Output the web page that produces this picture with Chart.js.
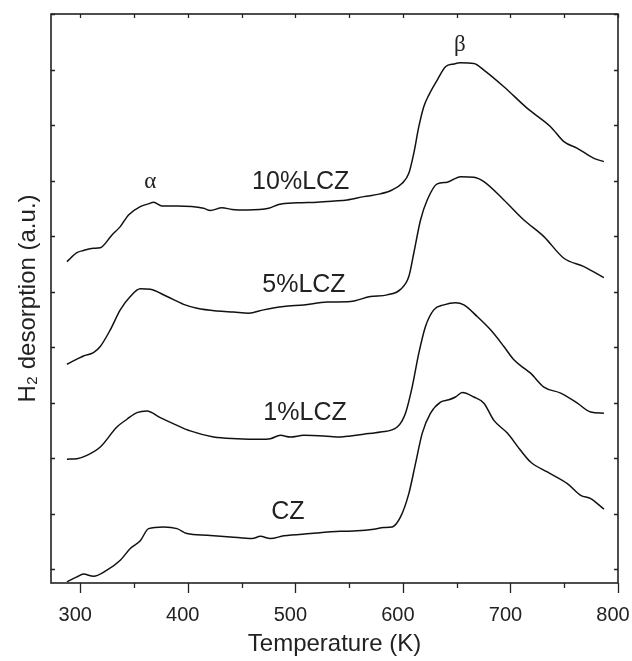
<!DOCTYPE html>
<html>
<head>
<meta charset="utf-8">
<script src="https://cdn.jsdelivr.net/npm/chart.js@4"></script>
<style>
  html, body { margin: 0; padding: 0; background: #fff; }
  #wrap { width: 632px; height: 661px; position: relative; }
</style>
</head>
<body>
<div id="wrap"><canvas id="tpr"></canvas></div>
<script>
// temperatures (K) and H2 desorption signal (a.u., offset per sample)
const t10 = [287.6,296.9,303.0,312.3,318.6,329.5,337.2,344.9,355.8,363.5,368.2,376.0,390.0,414.7,420.9,431.8,441.1,455.1,475.2,484.5,501.6,520.2,535.7,548.2,563.6,579.1,590.0,599.3,605.5,610.1,614.8,619.4,624.1,631.9,639.6,647.4,653.6,666.0,675.3,693.9,715.7,737.3,749.7,762.2,777.6,786.9];
const v10 = [5.54,5.70,5.74,5.78,5.79,6.02,6.17,6.38,6.53,6.58,6.61,6.54,6.54,6.50,6.46,6.51,6.48,6.47,6.50,6.57,6.60,6.61,6.63,6.65,6.71,6.76,6.83,6.95,7.13,7.49,7.97,8.33,8.54,8.81,9.05,9.10,9.12,9.11,8.99,8.69,8.30,7.97,7.70,7.58,7.40,7.34];

const t5 = [287.6,303.0,312.3,318.6,327.9,337.2,346.5,355.8,365.1,380.7,396.1,408.6,427.2,442.6,456.6,470.5,489.2,507.8,529.5,551.2,569.8,585.4,597.8,605.5,610.1,616.4,622.6,631.9,641.2,653.6,666.0,675.3,693.9,712.5,731.1,749.7,768.3,786.9];
const v5 = [3.69,3.84,3.90,4.01,4.31,4.67,4.91,5.05,5.04,4.91,4.77,4.70,4.65,4.63,4.61,4.67,4.73,4.76,4.81,4.82,4.91,4.94,5.04,5.27,5.69,6.29,6.65,6.94,6.97,7.07,7.06,6.98,6.65,6.29,5.99,5.60,5.45,5.25];

const t1 = [287.6,296.9,306.2,318.6,334.1,343.4,352.7,362.0,374.4,390.0,402.3,424.0,445.8,467.5,476.8,486.1,495.4,507.8,526.4,541.9,551.2,563.6,579.1,594.7,602.4,608.6,614.8,621.0,628.7,638.1,648.9,656.7,669.1,681.5,693.9,703.2,712.5,718.7,731.1,746.7,762.2,774.6,786.9];
const v1 = [1.98,1.99,2.05,2.20,2.56,2.70,2.82,2.85,2.73,2.59,2.49,2.38,2.35,2.34,2.35,2.41,2.38,2.41,2.40,2.38,2.40,2.43,2.47,2.56,2.81,3.28,3.89,4.37,4.67,4.76,4.80,4.76,4.55,4.31,4.01,3.77,3.62,3.53,3.28,3.17,2.99,2.83,2.81];

const tCZ = [287.6,296.9,303.0,312.3,324.8,337.2,346.5,355.8,363.5,377.5,390.0,399.3,417.9,439.6,459.8,467.5,476.8,489.2,514.0,541.9,557.5,572.9,582.2,590.0,597.8,605.5,611.7,618.0,625.7,635.0,642.7,648.9,655.2,666.0,675.3,684.6,697.1,709.4,718.7,734.3,752.9,765.3,774.6,786.9];
const vCZ = [-0.23,-0.14,-0.09,-0.13,-0.02,0.16,0.37,0.51,0.73,0.76,0.73,0.64,0.61,0.58,0.55,0.59,0.55,0.60,0.64,0.68,0.69,0.72,0.75,0.76,0.94,1.36,1.90,2.45,2.81,3.01,3.05,3.10,3.18,3.10,2.99,2.68,2.45,2.14,1.93,1.75,1.54,1.33,1.27,1.08];

const seriesNames = ['10%LCZ', '5%LCZ', '1%LCZ', 'CZ'];
const xTicks = [300, 350, 400, 450, 500, 550, 600, 650, 700, 750, 800];
const xTickLabels = [300, 400, 500, 600, 700, 800];
const yTicks = [0, 1, 2, 3, 4, 5, 6, 7, 8, 9, 10];

// text labels placed in data coordinates
const notes = [
  { text: 'α', x: 365, y: 6.97, font: '23px "Liberation Serif", "Times New Roman", serif' },
  { text: 'β', x: 653, y: 9.44, font: '23px "Liberation Serif", "Times New Roman", serif' },
  { text: '10%LCZ', x: 505, y: 6.97 },
  { text: '5%LCZ',  x: 508, y: 5.12 },
  { text: '1%LCZ',  x: 509, y: 2.81 },
  { text: 'CZ',     x: 493, y: 1.03 }
];

const sansFont = '"Liberation Sans", Arial, sans-serif';

function pts(ts, vs) {
  return ts.map((t, i) => ({ x: t, y: vs[i] }));
}

const frame = {
  id: 'frame',
  afterDraw(chart) {
    const { ctx, chartArea: a, scales: { x, y } } = chart;
    ctx.save();
    ctx.strokeStyle = '#222';
    ctx.lineWidth = 1.6;
    ctx.strokeRect(a.left, a.top, a.right - a.left, a.bottom - a.top);
    ctx.lineWidth = 1.3;
    ctx.beginPath();
    x.ticks.forEach(t => {
      const px = Math.round(x.getPixelForValue(t.value)) + 0.5;
      const major = t.value % 100 === 0;
      ctx.moveTo(px, a.bottom); ctx.lineTo(px, a.bottom + (major ? 10 : 5));
      ctx.moveTo(px, a.top);    ctx.lineTo(px, a.top + 4);
    });
    y.ticks.forEach(t => {
      const py = Math.round(y.getPixelForValue(t.value)) + 0.5;
      ctx.moveTo(a.left, py);  ctx.lineTo(a.left + 4, py);
      ctx.moveTo(a.right, py); ctx.lineTo(a.right - 4, py);
    });
    ctx.stroke();

    ctx.fillStyle = '#222';
    ctx.textAlign = 'center';
    ctx.textBaseline = 'middle';
    notes.forEach(n => {
      ctx.font = n.font || '25px ' + sansFont;
      ctx.fillText(n.text, x.getPixelForValue(n.x), y.getPixelForValue(n.y));
    });
    ctx.restore();
  }
};

const sets = [pts(t10, v10), pts(t5, v5), pts(t1, v1), pts(tCZ, vCZ)];

new Chart(document.getElementById('tpr'), {
  type: 'line',
  data: {
    datasets: sets.map((d, i) => ({
      label: seriesNames[i],
      data: d,
      borderColor: '#111',
      borderWidth: 1.5,
      pointRadius: 0,
      fill: false,
      cubicInterpolationMode: 'monotone'
    }))
  },
  options: {
    responsive: true,
    maintainAspectRatio: false,
    animation: false,
    layout: { padding: { left: 0, top: 14, right: 14, bottom: 0 } },
    plugins: { legend: { display: false }, tooltip: { enabled: false } },
    scales: {
      x: {
        type: 'linear',
        min: 272.8,
        max: 800,
        grid: { display: false, drawTicks: false },
        border: { display: false },
        afterBuildTicks(s) { s.ticks = xTicks.map(v => ({ value: v })); },
        ticks: {
          autoSkip: false,
          maxRotation: 0,
          padding: 20,
          labelOffset: -5,
          color: '#222',
          font: { family: sansFont, size: 20 },
          callback: v => xTickLabels.includes(v) ? String(v) : ''
        },
        title: {
          display: true,
          text: 'Temperature (K)',
          color: '#222',
          font: { family: sansFont, size: 24 },
          padding: { top: 0, bottom: 2 }
        },
        afterFit(s) { s.height = 78; s.paddingLeft = 0; s.paddingRight = 0; }
      },
      y: {
        min: -0.25,
        max: 10,
        grid: { display: false, drawTicks: false },
        border: { display: false },
        afterBuildTicks(s) { s.ticks = yTicks.map(v => ({ value: v })); },
        ticks: { display: false },
        title: {
          display: true,
          text: 'H₂ desorption (a.u.)',
          color: '#222',
          font: { family: sansFont, size: 24 },
          padding: { top: 14, bottom: 0 }
        },
        afterFit(s) { s.width = 51; s.paddingTop = 0; s.paddingBottom = 0; }
      }
    }
  },
  plugins: [frame]
});
</script>
</body>
</html>
